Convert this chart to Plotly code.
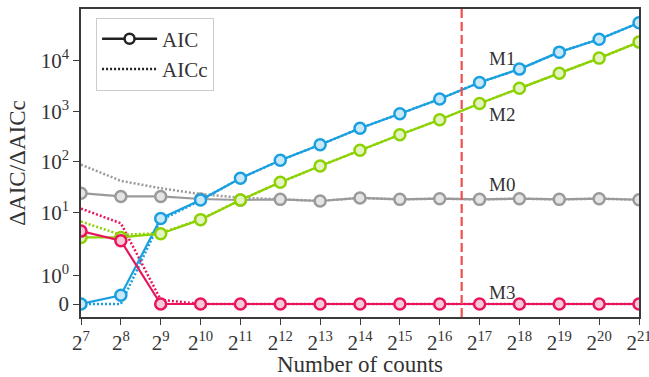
import numpy as np
import plotly.graph_objects as go

# ---------------- data ----------------
exponents = list(range(7, 22))
counts = [2 ** k for k in exponents]
x_tick_text = [f"2<sup>{k}</sup>" for k in exponents]

M0_aic = [24, 20.7, 20.7, 18.4, 17.6, 18.1, 16.8, 19.3, 18.1, 18.7, 18.1, 18.7, 18.1, 18.7, 17.8]
M0_aicc = [88, 42, 30, 23, 19.5, 18.4, 16.9, 19.3, 18.1, 18.7, 18.1, 18.7, 18.1, 18.7, 17.8]
M1_aic = [0, 0.31, 7.6, 17.6, 47.5, 107, 217, 460, 889, 1745, 3700, 6790, 14700, 26500, 55800]
M1_aicc = [0, 0, 7.0, 17.3, 47.3, 107, 217, 460, 889, 1745, 3700, 6790, 14700, 26500, 55800]
M2_aic = [3.2, 3.2, 3.8, 7.2, 17.5, 39.3, 82.6, 169, 343, 680, 1420, 2830, 5650, 11200, 23200]
M2_aicc = [6.6, 3.6, 3.9, 7.3, 17.6, 39.3, 82.6, 169, 343, 680, 1420, 2830, 5650, 11200, 23200]
M3_aic = [4.27, 2.75, 0, 0, 0, 0, 0, 0, 0, 0, 0, 0, 0, 0, 0]
M3_aicc = [11.9, 6.1, 0.15, 0, 0, 0, 0, 0, 0, 0, 0, 0, 0, 0, 0]

model_names = ["M0", "M1", "M2", "M3"]
y_tick_values = [0, 1, 10, 100, 1000, 10000]
y_tick_text = ["0", "10<sup>0</sup>", "10<sup>1</sup>", "10<sup>2</sup>", "10<sup>3</sup>", "10<sup>4</sup>"]
threshold_counts = 96000

# ---------------- symlog scale (linthresh=2, linscale=1) ----------------
LINTHRESH = 2.0
LINSCALE_ADJ = 1.0 / (1 - 1 / 10.0)


def symlog(v):
    v = np.asarray(v, dtype=float)
    a = np.abs(v)
    safe = np.maximum(a, LINTHRESH)
    out = np.sign(v) * LINTHRESH * (LINSCALE_ADJ + np.log10(safe / LINTHRESH))
    return np.where(a <= LINTHRESH, v * LINSCALE_ADJ, out)


colors = {"M0": "#9a9a9a", "M1": "#1a9fe0", "M2": "#8cd100", "M3": "#e8145c"}
fills = {"M0": "#e4e4e4", "M1": "#c8e7f7", "M2": "#e3f3c2", "M3": "#f7c9d8"}
series = {
    "M0": (M0_aic, M0_aicc),
    "M1": (M1_aic, M1_aicc),
    "M2": (M2_aic, M2_aicc),
    "M3": (M3_aic, M3_aicc),
}

FONT = "Liberation Serif"
TXT = "#333333"
fig = go.Figure()

for name in model_names:
    aic, aicc = series[name]
    fig.add_trace(go.Scatter(
        x=counts, y=symlog(aicc), mode="lines",
        line=dict(color=colors[name], width=2.5, dash="2px,2px"),
        showlegend=False, hoverinfo="skip"))
for name in model_names:
    aic, aicc = series[name]
    fig.add_trace(go.Scatter(
        x=counts, y=symlog(aic), mode="lines+markers",
        line=dict(color=colors[name], width=2.2),
        marker=dict(size=11, color=fills[name], line=dict(color=colors[name], width=2.5)),
        showlegend=False))

# legend entries
fig.add_trace(go.Scatter(
    x=[None], y=[None], mode="lines+markers", name="AIC",
    line=dict(color="#222222", width=2.5),
    marker=dict(size=10, color="white", line=dict(color="#222222", width=2.5))))
fig.add_trace(go.Scatter(
    x=[None], y=[None], mode="lines", name="AICc",
    line=dict(color="#222222", width=2.5, dash="2px,2px")))

# vertical dashed line
fig.add_shape(type="line", xref="x", yref="paper",
              x0=threshold_counts, x1=threshold_counts, y0=0, y1=1,
              line=dict(color="#f04f4f", width=2.2, dash="9px,4px"))

# model labels
label_pos = {"M1": 0.838, "M2": 0.656, "M0": 0.4286, "M3": 0.078}
for name, yp in label_pos.items():
    fig.add_annotation(x=0.7276, y=yp, xref="paper", yref="paper",
                       text=name, showarrow=False, xanchor="left", yanchor="middle",
                       font=dict(family=FONT, size=19, color=TXT))

axis_common = dict(showline=True, mirror=True, linecolor="#3a3a3a", linewidth=1.5,
                   ticks="outside", ticklen=6, tickwidth=1.3, tickcolor="#3a3a3a",
                   showgrid=False, zeroline=False, automargin=False,
                   ticklabeloverflow="allow",
                   tickfont=dict(family=FONT, size=21, color=TXT))

eps = 1e-6
fig.update_layout(
    width=649, height=377,
    margin=dict(l=81, r=10, t=9, b=60),
    paper_bgcolor="white", plot_bgcolor="white",
    font=dict(family=FONT, size=20, color=TXT),
    xaxis=dict(type="log", range=[np.log10(2 ** 7) - eps, np.log10(2 ** 21) + eps],
               tickvals=counts, ticktext=x_tick_text,
               title=dict(text="Number of counts", font=dict(family=FONT, size=23, color=TXT), standoff=0),
               **axis_common),
    yaxis=dict(range=[-0.514, 11.66], tickvals=symlog(y_tick_values), ticktext=y_tick_text,
               title=dict(text="ΔAIC/ΔAICc", font=dict(family=FONT, size=23, color=TXT), standoff=9),
               **axis_common),
    legend=dict(x=0.027, y=0.972, xanchor="left", yanchor="top",
                bgcolor="white", bordercolor="#cccccc", borderwidth=1,
                font=dict(family=FONT, size=21, color=TXT),
                itemwidth=55, tracegroupgap=0),
)

fig.write_html("out.html", config={"displayModeBar": False},
               post_script="document.body.style.margin='0px';")
